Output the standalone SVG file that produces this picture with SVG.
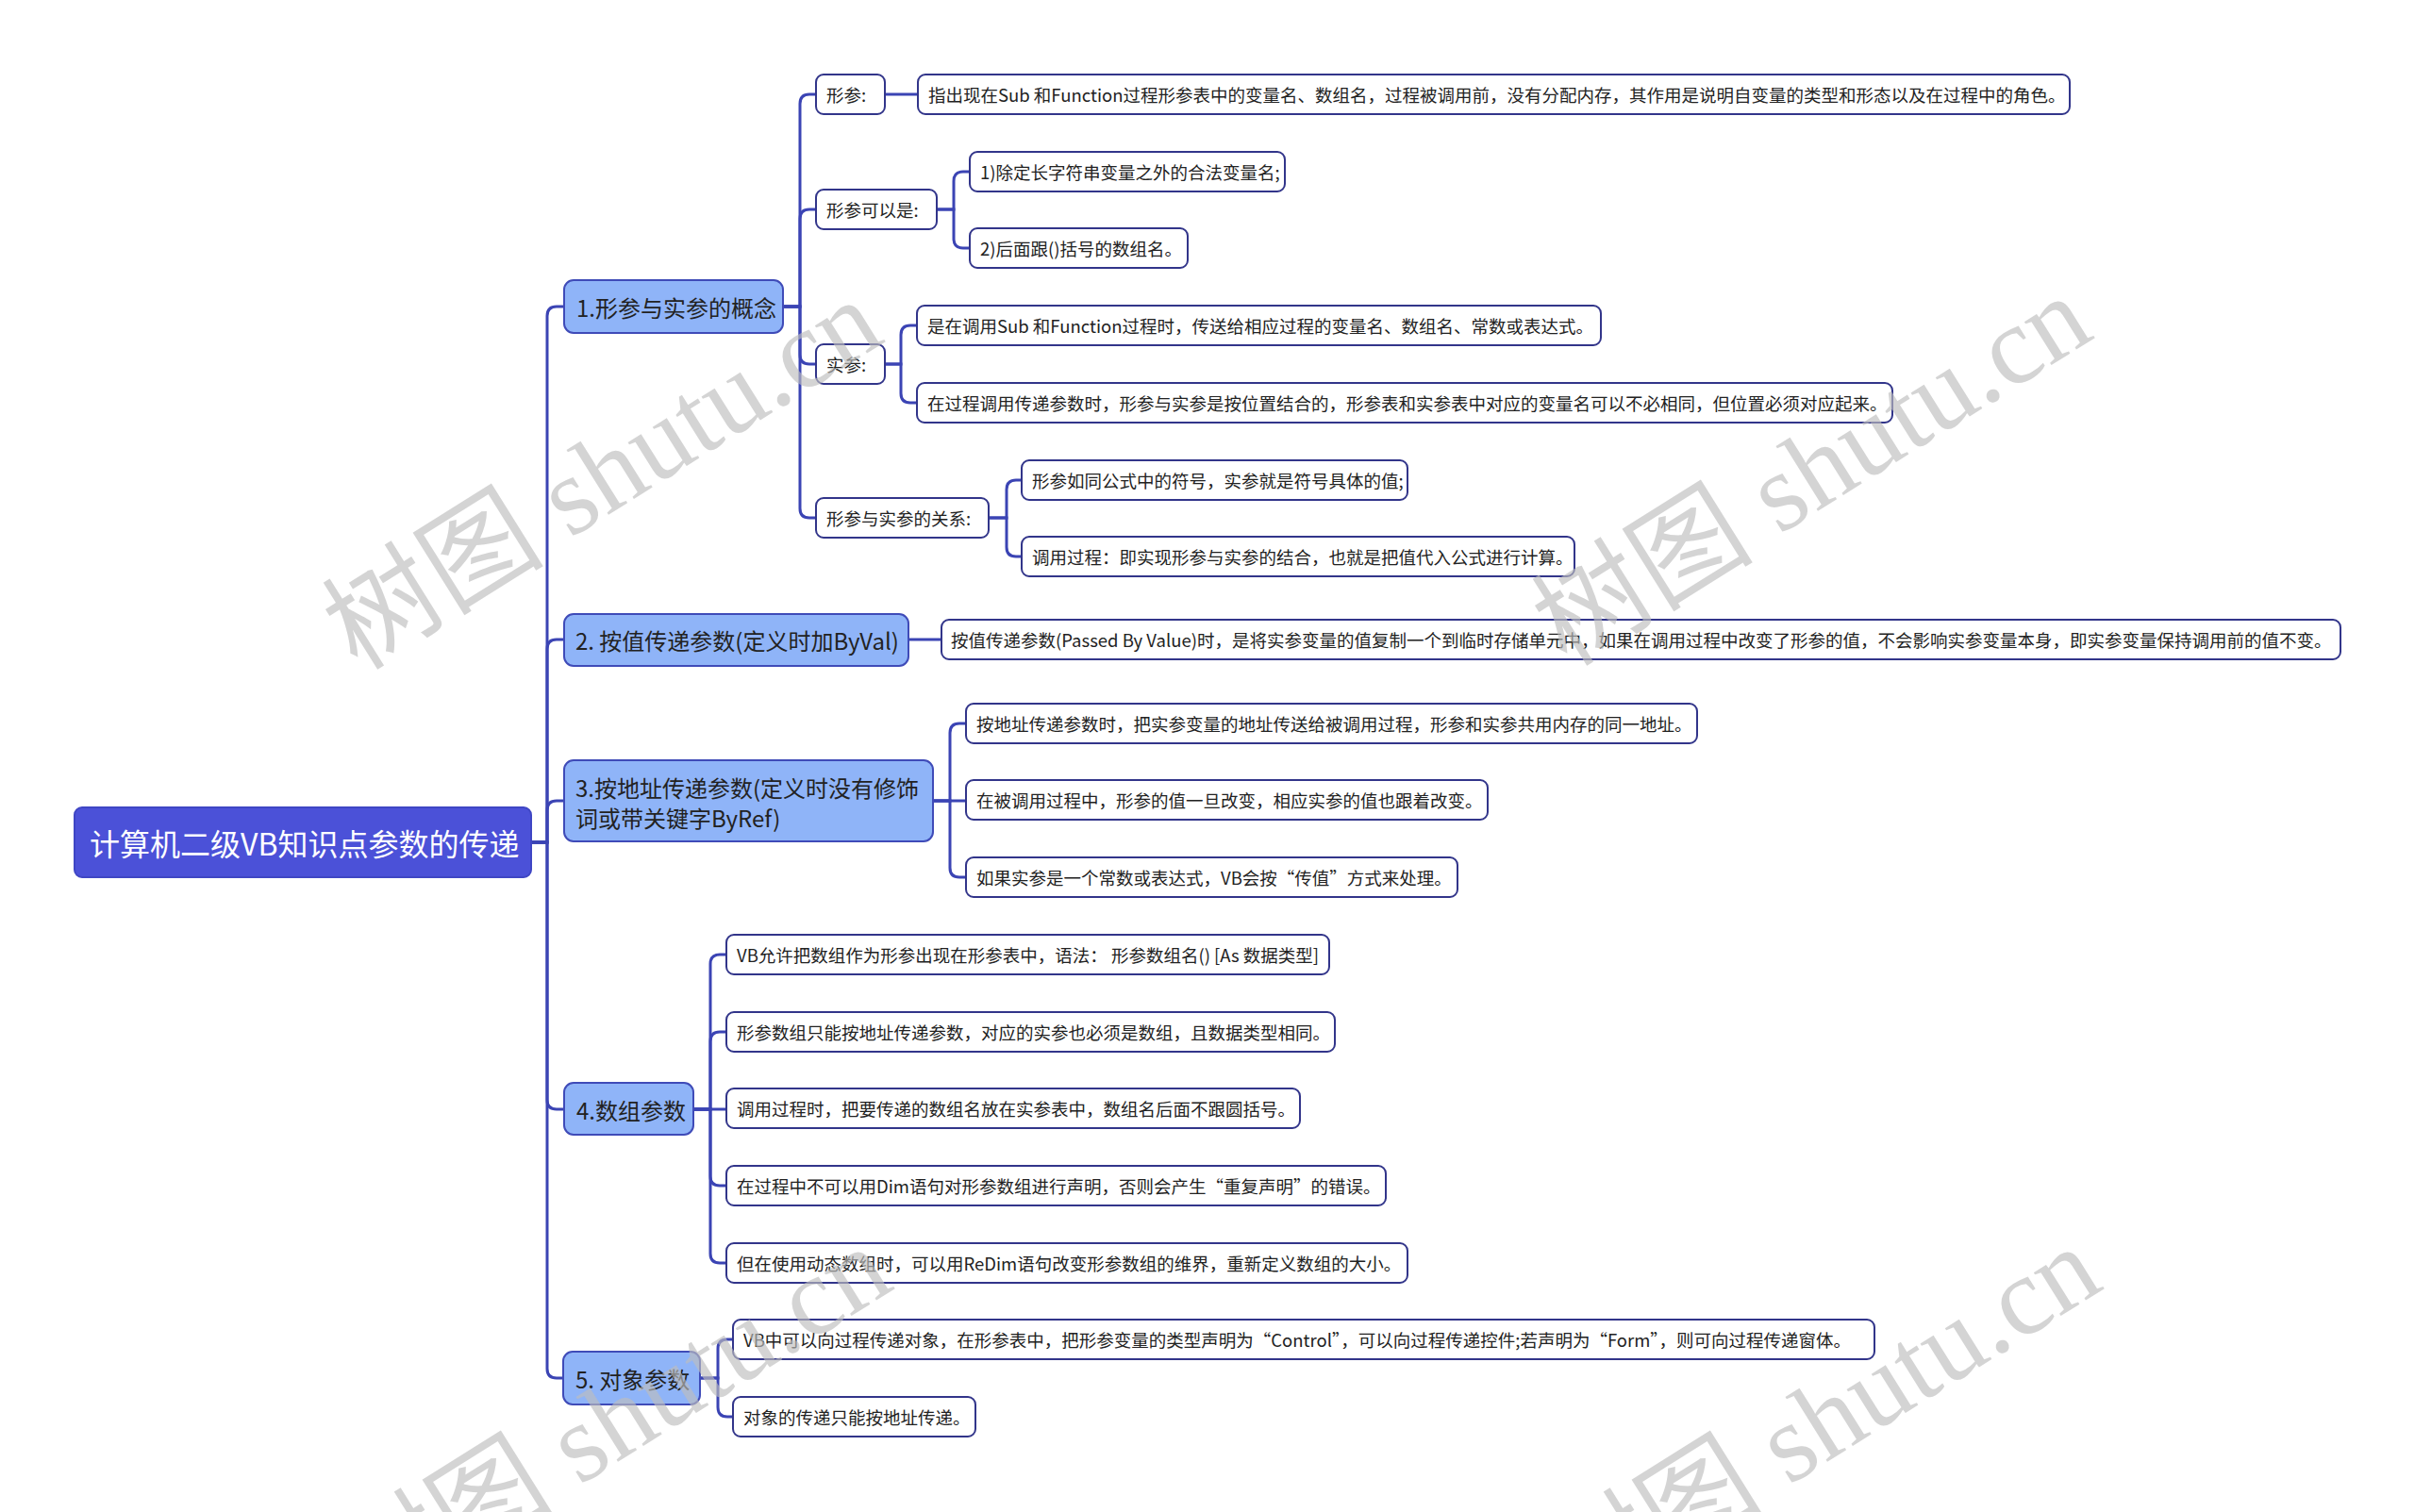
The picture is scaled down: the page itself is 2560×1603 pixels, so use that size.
<svg xmlns="http://www.w3.org/2000/svg" width="2560" height="1603" viewBox="0 0 2560 1603">
<style>
.bg{fill:#ffffff}
.conn path{fill:none;stroke:#3b44b4;stroke-width:3;stroke-linecap:round}
.root rect{fill:#4b51d8;stroke:#3f46c4;stroke-width:2}
.root text{fill:#ffffff;font-size:32px}
.l1 rect{fill:#8fb4f8;stroke:#3f4bb8;stroke-width:2}
.l1 text{fill:#222222;font-size:24px}
.leaf rect{fill:#ffffff;stroke:#32358a;stroke-width:2}
.leaf text{fill:#222222;font-size:18.5px}
text{font-family:"Noto Sans CJK SC","Microsoft YaHei","Liberation Sans",sans-serif;dominant-baseline:central}
.wm{font-family:"Liberation Serif","Noto Sans CJK SC",serif;font-size:118px;fill:#bdbdbd;fill-opacity:0.65;dominant-baseline:auto}
</style>
<rect class="bg" x="0" y="0" width="2560" height="1603"/>
<g class="conn" id="connectors">
<path d="M563 893 H580 V335 Q580 325 590 325 H598"/>
<path d="M563 893 H580 V688 Q580 678 590 678 H598"/>
<path d="M563 893 H580 V859 Q580 849 590 849 H598"/>
<path d="M563 893 H580 V1166 Q580 1176 590 1176 H598"/>
<path d="M563 893 H580 V1451 Q580 1461 590 1461 H598"/>
<path d="M830 325 H848 V110 Q848 100 858 100 H865"/>
<path d="M830 325 H848 V232 Q848 222 858 222 H865"/>
<path d="M830 325 H848 V376 Q848 386 858 386 H865"/>
<path d="M830 325 H848 V539 Q848 549 858 549 H865"/>
<path d="M938 100 H973"/>
<path d="M993 222 H1011 V192 Q1011 182 1021 182 H1028"/>
<path d="M993 222 H1011 V253 Q1011 263 1021 263 H1028"/>
<path d="M938 386 H955 V355 Q955 345 965 345 H972"/>
<path d="M938 386 H955 V417 Q955 427 965 427 H972"/>
<path d="M1048 549 H1067 V519 Q1067 509 1077 509 H1083"/>
<path d="M1048 549 H1067 V580 Q1067 590 1077 590 H1083"/>
<path d="M963 678 H998"/>
<path d="M989 849 H1007 V777 Q1007 767 1017 767 H1024"/>
<path d="M989 849 H1024"/>
<path d="M989 849 H1007 V920 Q1007 930 1017 930 H1024"/>
<path d="M735 1176 H753 V1022 Q753 1012 763 1012 H770"/>
<path d="M735 1176 H753 V1104 Q753 1094 763 1094 H770"/>
<path d="M735 1176 H770"/>
<path d="M735 1176 H753 V1247 Q753 1257 763 1257 H770"/>
<path d="M735 1176 H753 V1329 Q753 1339 763 1339 H770"/>
<path d="M742 1461 H761 V1430 Q761 1420 771 1420 H777"/>
<path d="M742 1461 H761 V1492 Q761 1502 771 1502 H777"/>
</g>
<g id="root" class="root"><rect x="79" y="856" width="484" height="74" rx="8"/><text x="95" y="893">计算机二级VB知识点参数的传递</text></g>
<g id="n1" class="l1"><rect x="598" y="297" width="232" height="56" rx="10"/><text x="611" y="325">1.形参与实参的概念</text></g>
<g id="n2" class="l1"><rect x="598" y="651" width="365" height="55" rx="10"/><text x="610" y="678">2. 按值传递参数(定义时加ByVal)</text></g>
<g id="n3" class="l1"><rect x="598" y="806" width="391" height="86" rx="10"/><text x="610" y="834">3.按地址传递参数(定义时没有修饰</text><text x="610" y="866">词或带关键字ByRef)</text></g>
<g id="n4" class="l1"><rect x="598" y="1148" width="137" height="55" rx="10"/><text x="611" y="1176">4.数组参数</text></g>
<g id="n5" class="l1"><rect x="597" y="1433" width="145" height="56" rx="10"/><text x="610" y="1461">5. 对象参数</text></g>
<g id="n1a" class="leaf"><rect x="865" y="79" width="73" height="42" rx="8"/><text x="876" y="100">形参:</text></g>
<g id="n1a1" class="leaf"><rect x="973" y="79" width="1221" height="42" rx="8"/><text x="984" y="100">指出现在Sub 和Function过程形参表中的变量名、数组名，过程被调用前，没有分配内存，其作用是说明自变量的类型和形态以及在过程中的角色。</text></g>
<g id="n1b" class="leaf"><rect x="865" y="201" width="128" height="42" rx="8"/><text x="876" y="222">形参可以是:</text></g>
<g id="n1b1" class="leaf"><rect x="1028" y="161" width="334" height="42" rx="8"/><text x="1039" y="182">1)除定长字符串变量之外的合法变量名;</text></g>
<g id="n1b2" class="leaf"><rect x="1028" y="242" width="231" height="42" rx="8"/><text x="1039" y="263">2)后面跟()括号的数组名。</text></g>
<g id="n1c" class="leaf"><rect x="865" y="365" width="73" height="42" rx="8"/><text x="876" y="386">实参:</text></g>
<g id="n1c1" class="leaf"><rect x="972" y="324" width="725" height="42" rx="8"/><text x="983" y="345">是在调用Sub 和Function过程时，传送给相应过程的变量名、数组名、常数或表达式。</text></g>
<g id="n1c2" class="leaf"><rect x="972" y="406" width="1034" height="42" rx="8"/><text x="983" y="427">在过程调用传递参数时，形参与实参是按位置结合的，形参表和实参表中对应的变量名可以不必相同，但位置必须对应起来。</text></g>
<g id="n1d" class="leaf"><rect x="865" y="528" width="183" height="42" rx="8"/><text x="876" y="549">形参与实参的关系:</text></g>
<g id="n1d1" class="leaf"><rect x="1083" y="488" width="409" height="42" rx="8"/><text x="1094" y="509">形参如同公式中的符号，实参就是符号具体的值;</text></g>
<g id="n1d2" class="leaf"><rect x="1083" y="569" width="586" height="42" rx="8"/><text x="1094" y="590">调用过程：即实现形参与实参的结合，也就是把值代入公式进行计算。</text></g>
<g id="n2a" class="leaf"><rect x="998" y="657" width="1483" height="42" rx="8"/><text x="1008" y="678">按值传递参数(Passed By Value)时，是将实参变量的值复制一个到临时存储单元中，如果在调用过程中改变了形参的值，不会影响实参变量本身，即实参变量保持调用前的值不变。</text></g>
<g id="n3a" class="leaf"><rect x="1024" y="746" width="775" height="42" rx="8"/><text x="1035" y="767">按地址传递参数时，把实参变量的地址传送给被调用过程，形参和实参共用内存的同一地址。</text></g>
<g id="n3b" class="leaf"><rect x="1024" y="827" width="553" height="42" rx="8"/><text x="1035" y="848">在被调用过程中，形参的值一旦改变，相应实参的值也跟着改变。</text></g>
<g id="n3c" class="leaf"><rect x="1024" y="909" width="521" height="42" rx="8"/><text x="1035" y="930">如果实参是一个常数或表达式，VB会按“传值”方式来处理。</text></g>
<g id="n4a" class="leaf"><rect x="770" y="991" width="639" height="42" rx="8"/><text x="781" y="1012">VB允许把数组作为形参出现在形参表中，语法： 形参数组名() [As 数据类型]</text></g>
<g id="n4b" class="leaf"><rect x="770" y="1073" width="645" height="42" rx="8"/><text x="781" y="1094">形参数组只能按地址传递参数，对应的实参也必须是数组，且数据类型相同。</text></g>
<g id="n4c" class="leaf"><rect x="770" y="1154" width="608" height="42" rx="8"/><text x="781" y="1175">调用过程时，把要传递的数组名放在实参表中，数组名后面不跟圆括号。</text></g>
<g id="n4d" class="leaf"><rect x="770" y="1236" width="699" height="42" rx="8"/><text x="781" y="1257">在过程中不可以用Dim语句对形参数组进行声明，否则会产生“重复声明”的错误。</text></g>
<g id="n4e" class="leaf"><rect x="770" y="1318" width="722" height="42" rx="8"/><text x="781" y="1339">但在使用动态数组时，可以用ReDim语句改变形参数组的维界，重新定义数组的大小。</text></g>
<g id="n5a" class="leaf"><rect x="777" y="1399" width="1210" height="42" rx="8"/><text x="788" y="1420">VB中可以向过程传递对象，在形参表中，把形参变量的类型声明为“Control”，可以向过程传递控件;若声明为“Form”，则可向过程传递窗体。</text></g>
<g id="n5b" class="leaf"><rect x="777" y="1481" width="257" height="42" rx="8"/><text x="788" y="1502">对象的传递只能按地址传递。</text></g>
<g id="watermark">
<text class="wm" x="648" y="540" text-anchor="middle" transform="rotate(-32 648 518)">树图 shutu.cn</text>
<text class="wm" x="1930" y="536" text-anchor="middle" transform="rotate(-32 1930 514)">树图 shutu.cn</text>
<text class="wm" x="658" y="1544" text-anchor="middle" transform="rotate(-32 658 1522)">树图 shutu.cn</text>
<text class="wm" x="1940" y="1544" text-anchor="middle" transform="rotate(-32 1940 1522)">树图 shutu.cn</text>
</g>
</svg>
